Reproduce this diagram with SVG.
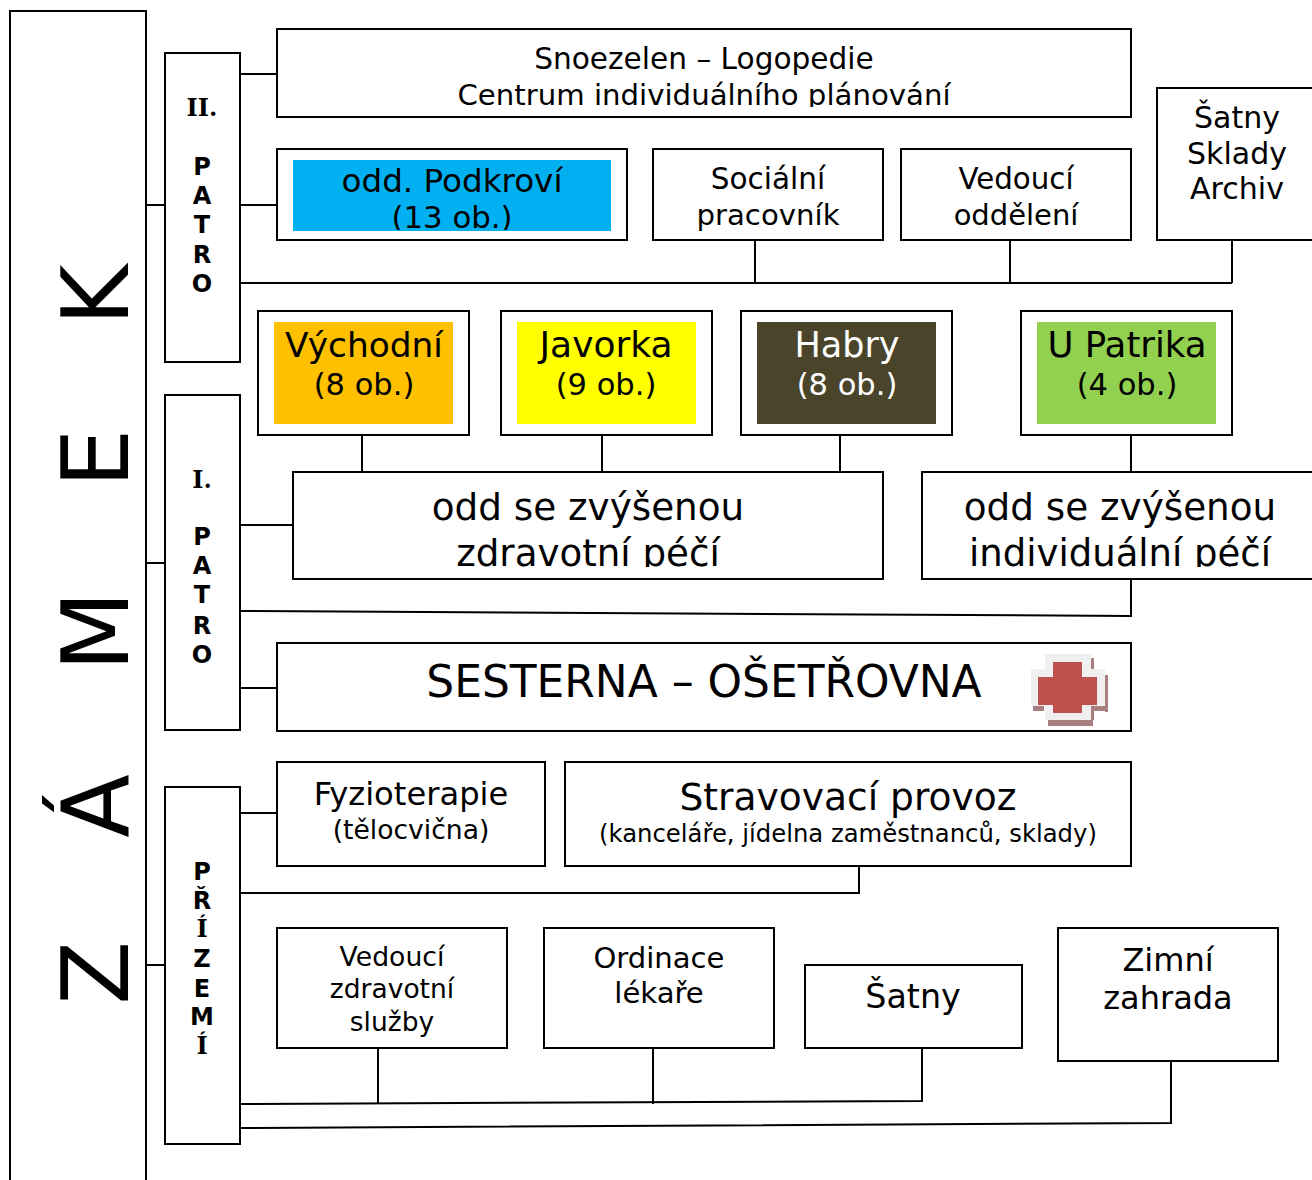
<svg xmlns="http://www.w3.org/2000/svg" width="1312" height="1180" viewBox="0 0 1312 1180">
<style>
text{font-family:"DejaVu Sans",Verdana,sans-serif;text-anchor:middle;fill:#000}
.b{fill:#fff;stroke:#000;stroke-width:2}
.l{fill:none;stroke:#000;stroke-width:2}
.p{font-weight:bold;font-size:24px}
.s{font-family:"DejaVu Serif",serif}
.z{font-size:93px}
.sh{fill:#a87f80}
</style>
<defs>
<clipPath id="c1"><rect x="277" y="29" width="854" height="78"/></clipPath>
<clipPath id="c2"><rect x="293" y="160" width="318" height="70"/></clipPath>
<clipPath id="c3"><rect x="293" y="472" width="990" height="95"/></clipPath>
</defs>
<rect width="1312" height="1180" fill="#fff"/>
<g id="connectors">
<path class="l" d="M146 205H165M146 563H165M146 965H165M240 74H277M240 205H277M240 283H1232M755 240V283M1010 240V283M1232 240V283M240 525H293M362 435V472M602 435V472M840 435V472M1131 435V472M240 611L1131 616V579M240 688H277M240 813H277M240 893H859V866M240 1104L922 1101V1048M378 1048V1104M653 1048V1104M240 1128L1171 1123V1061"/>
</g>
<g id="zamek"><path class="b" d="M10 1180V11H146V1180"/>
<text class="z" transform="translate(128,295) rotate(-90)">K</text>
<text class="z" transform="translate(128,458) rotate(-90)">E</text>
<text class="z" transform="translate(128,631) rotate(-90)">M</text>
<text class="z" transform="translate(128,806) rotate(-90)">Á</text>
<text class="z" transform="translate(128,973) rotate(-90)">Z</text>
</g>
<g id="patro2"><rect class="b" x="165" y="53" width="75" height="309"/>
<text class="p s" x="202" y="116">II.</text><text class="p" x="202" y="175">P</text><text class="p" x="202" y="204">A</text><text class="p" x="202" y="233">T</text><text class="p" x="202" y="263">R</text><text class="p" x="202" y="292">O</text></g>
<g id="patro1"><rect class="b" x="165" y="395" width="75" height="335"/>
<text class="p s" x="202" y="488">I.</text><text class="p" x="202" y="545">P</text><text class="p" x="202" y="574">A</text><text class="p" x="202" y="603">T</text><text class="p" x="202" y="634">R</text><text class="p" x="202" y="663">O</text></g>
<g id="prizemi"><rect class="b" x="165" y="787" width="75" height="357"/>
<text class="p" x="202" y="880">P</text><text class="p" x="202" y="909">Ř</text><text class="p s" x="202" y="937">Í</text><text class="p" x="202" y="967">Z</text><text class="p" x="202" y="997">E</text><text class="p" x="202" y="1025">M</text><text class="p s" x="202" y="1054">Í</text></g>
<g id="snoezelen"><rect class="b" x="277" y="29" width="854" height="88"/>
<text x="704" y="69" font-size="29.6">Snoezelen – Logopedie</text><text x="704" y="105" font-size="29.2" clip-path="url(#c1)">Centrum individuálního plánování</text></g>
<g id="podkrovi"><rect class="b" x="277" y="149" width="350" height="91"/><rect x="293" y="160" width="318" height="71" fill="#00b0f0"/>
<text x="452" y="192" font-size="32.6">odd. Podkroví</text><text x="452" y="228" font-size="30.8" clip-path="url(#c2)">(13 ob.)</text></g>
<g id="socialni"><rect class="b" x="653" y="149" width="230" height="91"/>
<text x="768" y="189" font-size="29.5">Sociální</text><text x="768" y="225" font-size="29.2">pracovník</text></g>
<g id="vedouci"><rect class="b" x="901" y="149" width="230" height="91"/>
<text x="1016" y="189" font-size="29.3">Vedoucí</text><text x="1016" y="225" font-size="29">oddělení</text></g>
<g id="satny2"><path class="b" d="M1312 88H1157V240H1312"/>
<text x="1237" y="128" font-size="30">Šatny</text><text x="1237" y="164" font-size="30">Sklady</text><text x="1237" y="199" font-size="30">Archiv</text></g>
<g id="vychodni"><rect class="b" x="258" y="311" width="211" height="124"/><rect x="274" y="322" width="179" height="102" fill="#ffc000"/>
<text x="364" y="357" font-size="34.4">Východní</text><text x="364" y="395" font-size="30.5">(8 ob.)</text></g>
<g id="javorka"><rect class="b" x="501" y="311" width="211" height="124"/><rect x="517" y="322" width="179" height="102" fill="#ff0"/>
<text x="606" y="357" font-size="36">Javorka</text><text x="606" y="395" font-size="30.5">(9 ob.)</text></g>
<g id="habry"><rect class="b" x="741" y="311" width="211" height="124"/><rect x="757" y="322" width="179" height="102" fill="#4a452a"/>
<text x="847" y="357" font-size="35" style="fill:#fff">Habry</text><text x="847" y="395" font-size="30.5" style="fill:#fff">(8 ob.)</text></g>
<g id="upatrika"><rect class="b" x="1021" y="311" width="211" height="124"/><rect x="1037" y="322" width="179" height="102" fill="#92d050"/>
<text x="1127" y="357" font-size="35.6">U Patrika</text><text x="1127" y="395" font-size="30.5">(4 ob.)</text></g>
<g id="zdravotni"><rect class="b" x="293" y="472" width="590" height="107"/>
<text x="588" y="520" font-size="37.3">odd se zvýšenou</text><text x="588" y="566" font-size="37.2" clip-path="url(#c3)">zdravotní péčí</text></g>
<g id="individualni"><path class="b" d="M1312 472H922V579H1312"/>
<text x="1120" y="520" font-size="37.3">odd se zvýšenou</text><text x="1120" y="566" font-size="37" clip-path="url(#c3)">individuální péčí</text></g>
<g id="sesterna"><rect class="b" x="277" y="643" width="854" height="88"/>
<text x="704" y="697" font-size="43.9">SESTERNA – OŠETŘOVNA</text>
<path class="sh" d="M1091 658H1094V669H1091ZM1105 675H1108V712H1105ZM1091 706H1105V711H1094V720H1091ZM1033 706H1044V711H1033ZM1048 720H1093V726H1048Z"/>
<path d="M1045 654H1091V669H1105V706H1091V720H1045V706H1031V669H1045Z" fill="#f1f0f0"/>
<path d="M1053 662H1082V677H1097V705H1082V713H1053V705H1038V677H1053Z" fill="#c0504d"/></g>
<g id="fyzio"><rect class="b" x="277" y="762" width="268" height="104"/>
<text x="411" y="805" font-size="32.2">Fyzioterapie</text><text x="411" y="839" font-size="26.6">(tělocvična)</text></g>
<g id="stravovaci"><rect class="b" x="565" y="762" width="566" height="104"/>
<text x="848" y="810" font-size="37.6">Stravovací provoz</text><text x="848" y="842" font-size="24.3">(kanceláře, jídelna zaměstnanců, sklady)</text></g>
<g id="vedzdrav"><rect class="b" x="277" y="928" width="230" height="120"/>
<text x="392" y="966" font-size="26.7">Vedoucí</text><text x="392" y="998" font-size="26.5">zdravotní</text><text x="392" y="1031" font-size="26.5">služby</text></g>
<g id="ordinace"><rect class="b" x="544" y="928" width="230" height="120"/>
<text x="659" y="968" font-size="29.1">Ordinace</text><text x="659" y="1003" font-size="29.1">lékaře</text></g>
<g id="satny"><rect class="b" x="805" y="965" width="217" height="83"/>
<text x="913" y="1008" font-size="33.3">Šatny</text></g>
<g id="zimni"><rect class="b" x="1058" y="928" width="220" height="133"/>
<text x="1168" y="971" font-size="32">Zimní</text><text x="1168" y="1009" font-size="32">zahrada</text></g>
</svg>
